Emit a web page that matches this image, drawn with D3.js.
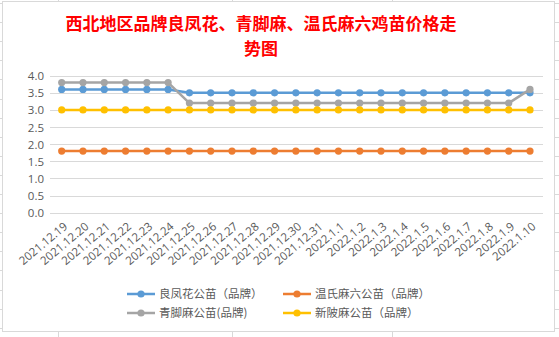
<!DOCTYPE html>
<html>
<head>
<meta charset="utf-8">
<script src="https://cdn.jsdelivr.net/npm/d3@7"></script>
<style>
  body { margin: 0; background: #fff; }
  svg { display: block; }
  text { font-family: "Open Sans", "Noto Sans CJK SC", sans-serif; }
</style>
</head>
<body>
<svg id="chart" width="559" height="337"></svg>
<script>
var dates = ["2021.12.19","2021.12.20","2021.12.21","2021.12.22","2021.12.23","2021.12.24","2021.12.25",
  "2021.12.26","2021.12.27","2021.12.28","2021.12.29","2021.12.30","2021.12.31",
  "2022.1.1","2022.1.2","2022.1.3","2022.1.4","2022.1.5","2022.1.6","2022.1.7","2022.1.8","2022.1.9","2022.1.10"];

var liangfenghua = [3.6,3.6,3.6,3.6,3.6,3.6,3.5,3.5,3.5,3.5,3.5,3.5,3.5,3.5,3.5,3.5,3.5,3.5,3.5,3.5,3.5,3.5,3.5];
var wenshi = [1.8,1.8,1.8,1.8,1.8,1.8,1.8,1.8,1.8,1.8,1.8,1.8,1.8,1.8,1.8,1.8,1.8,1.8,1.8,1.8,1.8,1.8,1.8];
var qingjiaoma = [3.8,3.8,3.8,3.8,3.8,3.8,3.2,3.2,3.2,3.2,3.2,3.2,3.2,3.2,3.2,3.2,3.2,3.2,3.2,3.2,3.2,3.2,3.6];
var xinpoma = [3.0,3.0,3.0,3.0,3.0,3.0,3.0,3.0,3.0,3.0,3.0,3.0,3.0,3.0,3.0,3.0,3.0,3.0,3.0,3.0,3.0,3.0,3.0];

var seriesNames = ["良凤花公苗（品牌）","温氏麻六公苗（品牌）","青脚麻公苗(品牌)","新陂麻公苗（品牌）"];
var seriesColors = ["#5B9BD5","#ED7D31","#A5A5A5","#FFC000"];
var yTicks = [0,0.5,1,1.5,2,2.5,3,3.5,4];

var titleLines = ["西北地区品牌良凤花、青脚麻、温氏麻六鸡苗价格走","势图"];

var svg = d3.select("#chart");

// spreadsheet grid behind the chart box
var gridG = svg.append("g").attr("stroke","#d9d9d9").attr("stroke-width",1);
[58,232,392].forEach(function(x) {
  gridG.append("line").attr("x1",x+0.5).attr("x2",x+0.5).attr("y1",0).attr("y2",337);
});
for (var ry = 3; ry < 337; ry += 19.1) {
  gridG.append("line").attr("x1",0).attr("x2",559).attr("y1",Math.round(ry)+0.5).attr("y2",Math.round(ry)+0.5);
}
// chart box
svg.append("rect").attr("x",2.5).attr("y",1.5).attr("width",552).attr("height",330)
  .attr("fill","#fff").attr("stroke","#d9d9d9");

// title (two lines in one text element)
var title = svg.append("text")
  .attr("text-anchor","middle")
  .attr("fill","#FF0000")
  .style("font-family","'Noto Sans CJK SC', sans-serif")
  .style("font-weight","bold")
  .style("font-size","17px");
title.selectAll("tspan").data(titleLines).join("tspan")
  .attr("x",261).attr("y",function(d,i){ return 29.5 + i*25; })
  .text(function(d){ return d; });

var x = d3.scalePoint().domain(dates).range([61.7,530]);
var y = d3.scaleLinear().domain([0,4]).range([212.7,75.7]);

// gridlines
svg.append("g").selectAll("line").data(yTicks).join("line")
  .attr("x1",50).attr("x2",543)
  .attr("y1",function(d){ return Math.round(y(d))+0.5; })
  .attr("y2",function(d){ return Math.round(y(d))+0.5; })
  .attr("stroke","#d9d9d9").attr("stroke-width",1);

// y axis labels
var yAxis = d3.axisLeft(y).tickValues(yTicks).tickFormat(d3.format(".1f")).tickSize(0).tickPadding(0);
var yg = svg.append("g").attr("transform","translate(44,0)").call(yAxis);
yg.select(".domain").remove();
yg.selectAll("text").attr("fill","#595959").style("font-size","11.5px").attr("dy","0.35em");

// x axis labels
var xAxis = d3.axisBottom(x).tickSize(0).tickPadding(0);
var xg = svg.append("g").attr("transform","translate(0,212.7)").call(xAxis);
xg.select(".domain").remove();
xg.selectAll("text")
  .attr("fill","#595959").style("font-size","11.5px")
  .attr("text-anchor","end")
  .attr("x",0).attr("y",0).attr("dy",0)
  .attr("transform","translate(6,15) rotate(-40)");

// series
var allSeries = [liangfenghua, wenshi, qingjiaoma, xinpoma];
var line = d3.line().x(function(d,i){ return x(dates[i]); }).y(function(d){ return y(d); });
allSeries.forEach(function(vals, s) {
  var g = svg.append("g");
  g.append("path").datum(vals).attr("d",line)
    .attr("fill","none").attr("stroke",seriesColors[s]).attr("stroke-width",2.5)
    .attr("stroke-linejoin","round");
  g.selectAll("circle").data(vals).join("circle")
    .attr("cx",function(d,i){ return x(dates[i]); })
    .attr("cy",function(d){ return y(d); })
    .attr("r",3.6)
    .attr("fill",seriesColors[s]);
});

// legend
var legendPos = [[127,294],[283,294],[127,313],[283,313]];
seriesNames.forEach(function(name, s) {
  var lx = legendPos[s][0], ly = legendPos[s][1];
  var g = svg.append("g");
  g.append("line").attr("x1",lx).attr("x2",lx+28).attr("y1",ly).attr("y2",ly)
    .attr("stroke",seriesColors[s]).attr("stroke-width",2.5);
  g.append("circle").attr("cx",lx+14).attr("cy",ly).attr("r",3.6).attr("fill",seriesColors[s]);
  g.append("text").attr("x",lx+32).attr("y",ly).attr("dy","0.36em")
    .attr("fill","#595959").style("font-size","11.5px")
    .style("font-family","'Noto Sans CJK SC', sans-serif")
    .text(name);
});
</script>
</body>
</html>
